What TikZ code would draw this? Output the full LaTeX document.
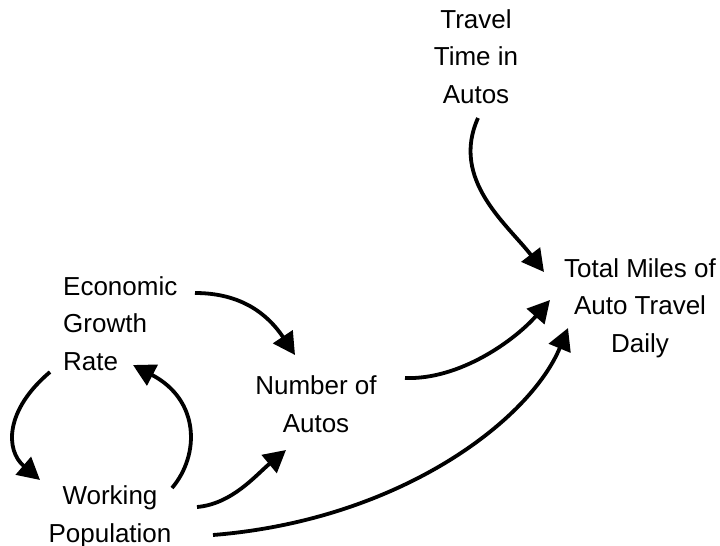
\documentclass[tikz,border=0pt]{standalone}
\usepackage{fontspec}
\setmainfont{Liberation Sans}
\usetikzlibrary{arrows.meta}
\tikzset{
  lbl/.style={inner sep=0pt, align=center, font=\fontsize{26}{37.5}\selectfont},
  lblL/.style={inner sep=0pt, align=left, font=\fontsize{26}{37.5}\selectfont},
  arr/.style={line width=3.8pt, -{Triangle[length=22pt,width=23pt]}}
}
\begin{document}
\begin{tikzpicture}[x=1pt,y=-1pt]
\useasboundingbox (0,0) rectangle (720,546);
\node[lbl, anchor=base] (trav) at (476,103) {Travel\\Time in\\Autos};
\node[lblL, anchor=base west] (econ) at (63,370) {Economic\\Growth\\Rate};
\node[lbl, anchor=base] (num) at (316,432) {Number of\\Autos};
\node[lbl, anchor=base] (total) at (640,352) {Total Miles of\\Auto Travel\\Daily};
\node[lbl, anchor=base] (work) at (110,542) {Working\\Population};
% Travel Time -> Total Miles
\draw[arr] ([shift={(2,15)}]trav.base) .. controls +(-28,62) and +(-36,-47) .. ([shift={(-96,-80)}]total.base);
% Economic Growth -> Number of Autos
\draw[arr] ([shift={(132,-77)}]econ.base west) .. controls +(45,0) and +(-28,-42) .. ([shift={(-21,-77)}]num.base);
% Economic Growth -> Working Population
\draw[arr] ([shift={(-13,2)}]econ.base west) .. controls +(-45,38) and +(-35,-30) .. ([shift={(-70,-62)}]work.base);
% Working Population -> Economic Growth
\draw[arr] ([shift={(62,-54)}]work.base) .. controls +(28,-33) and +(67,35) .. ([shift={(70,-5)}]econ.base west);
% Working Population -> Number of Autos
\draw[arr] ([shift={(87,-35)}]work.base) .. controls +(35,-3) and +(-30,25) .. ([shift={(-30,18)}]num.base);
% Working Population -> Total Miles
\draw[arr] ([shift={(103,-7)}]work.base) .. controls +(187,-15) and +(-38,92) .. ([shift={(-72,-24)}]total.base);
% Number of Autos -> Total Miles
\draw[arr] ([shift={(89,-54)}]num.base) .. controls +(55,2) and +(-35,40) .. ([shift={(-90,-52)}]total.base);
\end{tikzpicture}
\end{document}
